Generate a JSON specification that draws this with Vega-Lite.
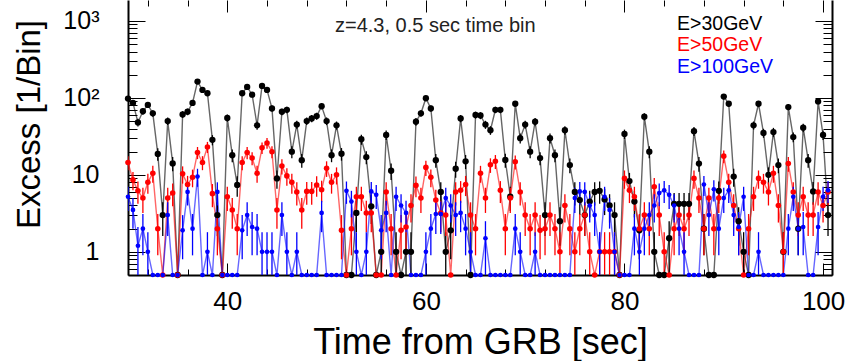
{
"$schema": "https://vega.github.io/schema/vega-lite/v6.json",
"width": 704, "height": 275,
"autosize": {"type": "none"},
"padding": {"left": 128, "top": 0, "right": 15, "bottom": 86},
"background": "white",
"config": {"view": {"stroke": null}, "font": "Liberation Sans"},
"datasets": {
"d": [
{"s":"30","t":30,"v":98,"e":7.9},{"s":"30","t":30.5,"v":86,"e":7.4},{"s":"30","t":31,"v":48,"e":5.5},{"s":"30","t":31.5,"v":67,"e":6.5},{"s":"30","t":32,"v":81,"e":7.2},{"s":"30","t":32.5,"v":63,"e":6.3},{"s":"30","t":33,"v":18.7,"e":3.5},{"s":"30","t":33.5,"v":3,"e":1.4},{"s":"30","t":34,"v":50,"e":5.7},{"s":"30","t":34.5,"v":14.1,"e":3},
{"s":"30","t":35,"v":0.5,"e":0},{"s":"30","t":35.5,"v":61,"e":6.2},{"s":"30","t":36,"v":66,"e":6.5},{"s":"30","t":36.5,"v":86,"e":7.4},{"s":"30","t":37,"v":163,"e":10.2},{"s":"30","t":37.5,"v":127,"e":9},{"s":"30","t":38,"v":115,"e":8.6},{"s":"30","t":38.5,"v":28.5,"e":4.3},{"s":"30","t":39,"v":3,"e":1.4},{"s":"30","t":39.5,"v":0.5,"e":0},
{"s":"30","t":40,"v":55,"e":5.9},{"s":"30","t":40.5,"v":18,"e":3.4},{"s":"30","t":41,"v":7.4,"e":2.2},{"s":"30","t":41.5,"v":115,"e":8.6},{"s":"30","t":42,"v":139,"e":9.4},{"s":"30","t":42.5,"v":110,"e":8.4},{"s":"30","t":43,"v":44,"e":5.3},{"s":"30","t":43.5,"v":143,"e":9.6},{"s":"30","t":44,"v":127,"e":9},{"s":"30","t":44.5,"v":73,"e":6.8},
{"s":"30","t":45,"v":9,"e":2.4},{"s":"30","t":45.5,"v":66,"e":6.5},{"s":"30","t":46,"v":70,"e":6.7},{"s":"30","t":46.5,"v":20,"e":3.6},{"s":"30","t":47,"v":45,"e":5.4},{"s":"30","t":47.5,"v":15.5,"e":3.1},{"s":"30","t":48,"v":50,"e":5.7},{"s":"30","t":48.5,"v":54,"e":5.9},{"s":"30","t":49,"v":58,"e":6.1},{"s":"30","t":49.5,"v":78,"e":7.1},
{"s":"30","t":50,"v":50,"e":5.7},{"s":"30","t":50.5,"v":18,"e":3.4},{"s":"30","t":51,"v":44,"e":5.3},{"s":"30","t":51.5,"v":18.8,"e":3.5},{"s":"30","t":52,"v":0.5,"e":0},{"s":"30","t":52.5,"v":0.5,"e":0},{"s":"30","t":53,"v":3.2,"e":1.4},{"s":"30","t":53.5,"v":29,"e":4.3},{"s":"30","t":54,"v":17,"e":3.3},{"s":"30","t":54.5,"v":3.9,"e":1.6},
{"s":"30","t":55,"v":0.5,"e":0},{"s":"30","t":55.5,"v":1,"e":0.8},{"s":"30","t":56,"v":33,"e":4.6},{"s":"30","t":56.5,"v":11.3,"e":2.7},{"s":"30","t":57,"v":1,"e":0.8},{"s":"30","t":57.5,"v":0.5,"e":0},{"s":"30","t":58,"v":1,"e":0.8},{"s":"30","t":58.5,"v":1,"e":0.8},{"s":"30","t":59,"v":49,"e":5.6},{"s":"30","t":59.5,"v":63,"e":6.3},
{"s":"30","t":60,"v":99,"e":8},{"s":"30","t":60.5,"v":73,"e":6.8},{"s":"30","t":61,"v":15.5,"e":3.1},{"s":"30","t":61.5,"v":6,"e":2},{"s":"30","t":62,"v":1,"e":0.8},{"s":"30","t":62.5,"v":1.9,"e":1.1},{"s":"30","t":63,"v":12,"e":2.8},{"s":"30","t":63.5,"v":54,"e":5.9},{"s":"30","t":64,"v":15,"e":3.1},{"s":"30","t":64.5,"v":0.5,"e":0},
{"s":"30","t":65,"v":60,"e":6.2},{"s":"30","t":65.5,"v":59,"e":6.1},{"s":"30","t":66,"v":45,"e":5.4},{"s":"30","t":66.5,"v":38,"e":4.9},{"s":"30","t":67,"v":70,"e":6.7},{"s":"30","t":67.5,"v":70,"e":6.7},{"s":"30","t":68,"v":15.6,"e":3.2},{"s":"30","t":68.5,"v":5.2,"e":1.8},{"s":"30","t":69,"v":84,"e":7.3},{"s":"30","t":69.5,"v":30,"e":4.4},
{"s":"30","t":70,"v":45,"e":5.4},{"s":"30","t":70.5,"v":20,"e":3.6},{"s":"30","t":71,"v":49,"e":5.6},{"s":"30","t":71.5,"v":16.5,"e":3.2},{"s":"30","t":72,"v":3,"e":1.4},{"s":"30","t":72.5,"v":30,"e":4.4},{"s":"30","t":73,"v":18,"e":3.4},{"s":"30","t":73.5,"v":2.5,"e":1.3},{"s":"30","t":74,"v":38,"e":4.9},{"s":"30","t":74.5,"v":13.4,"e":2.9},
{"s":"30","t":75,"v":6,"e":2},{"s":"30","t":75.5,"v":4.7,"e":1.7},{"s":"30","t":76,"v":3,"e":1.4},{"s":"30","t":76.5,"v":4.5,"e":1.7},{"s":"30","t":77,"v":6,"e":2},{"s":"30","t":77.5,"v":6.2,"e":2},{"s":"30","t":78,"v":4.8,"e":1.8},{"s":"30","t":78.5,"v":4,"e":1.6},{"s":"30","t":79,"v":3,"e":1.4},{"s":"30","t":79.5,"v":0.5,"e":0},
{"s":"30","t":80,"v":34,"e":4.7},{"s":"30","t":80.5,"v":8.3,"e":2.3},{"s":"30","t":81,"v":4.5,"e":1.7},{"s":"30","t":81.5,"v":1.9,"e":1.1},{"s":"30","t":82,"v":57,"e":6},{"s":"30","t":82.5,"v":20,"e":3.6},{"s":"30","t":83,"v":1,"e":0.8},{"s":"30","t":83.5,"v":0.5,"e":0},{"s":"30","t":84,"v":0.5,"e":0},{"s":"30","t":84.5,"v":1.5,"e":1},
{"s":"30","t":85,"v":4.2,"e":1.6},{"s":"30","t":85.5,"v":4.2,"e":1.6},{"s":"30","t":86,"v":4.2,"e":1.6},{"s":"30","t":86.5,"v":4.2,"e":1.6},{"s":"30","t":87,"v":37,"e":4.9},{"s":"30","t":87.5,"v":14,"e":3},{"s":"30","t":88,"v":2,"e":1.1},{"s":"30","t":88.5,"v":0.5,"e":0},{"s":"30","t":89,"v":0.5,"e":0},{"s":"30","t":89.5,"v":6.2,"e":2},
{"s":"30","t":90,"v":104,"e":8.2},{"s":"30","t":90.5,"v":84,"e":7.3},{"s":"30","t":91,"v":9.5,"e":2.5},{"s":"30","t":91.5,"v":2.5,"e":1.3},{"s":"30","t":92,"v":1,"e":0.8},{"s":"30","t":92.5,"v":0.5,"e":0},{"s":"30","t":93,"v":44,"e":5.3},{"s":"30","t":93.5,"v":84,"e":7.3},{"s":"30","t":94,"v":35,"e":4.7},{"s":"30","t":94.5,"v":10,"e":2.5},
{"s":"30","t":95,"v":36,"e":4.8},{"s":"30","t":95.5,"v":13.4,"e":2.9},{"s":"30","t":96,"v":1,"e":0.8},{"s":"30","t":96.5,"v":76,"e":7},{"s":"30","t":97,"v":31,"e":4.5},{"s":"30","t":97.5,"v":2,"e":1.1},{"s":"30","t":98,"v":41,"e":5.1},{"s":"30","t":98.5,"v":15.5,"e":3.1},{"s":"30","t":99,"v":6.1,"e":2},{"s":"30","t":99.5,"v":90,"e":7.6},
{"s":"30","t":100,"v":33,"e":4.6},{"s":"30","t":100.5,"v":3,"e":1.4},
{"s":"50","t":30,"v":14.5,"e":3},{"s":"50","t":30.5,"v":8.6,"e":2.3},{"s":"50","t":31,"v":6.2,"e":2},{"s":"50","t":31.5,"v":5,"e":1.8},{"s":"50","t":32,"v":8,"e":2.3},{"s":"50","t":32.5,"v":10.5,"e":2.6},{"s":"50","t":33,"v":2,"e":1.1},{"s":"50","t":33.5,"v":0.5,"e":0},{"s":"50","t":34,"v":5,"e":1.8},{"s":"50","t":34.5,"v":5.8,"e":1.9},
{"s":"50","t":35,"v":0.5,"e":0},{"s":"50","t":35.5,"v":10.3,"e":2.6},{"s":"50","t":36,"v":7.5,"e":2.2},{"s":"50","t":36.5,"v":9.3,"e":2.4},{"s":"50","t":37,"v":19.5,"e":3.5},{"s":"50","t":37.5,"v":14.5,"e":3},{"s":"50","t":38,"v":23,"e":3.8},{"s":"50","t":38.5,"v":5.7,"e":1.9},{"s":"50","t":39,"v":2,"e":1.1},{"s":"50","t":39.5,"v":0.5,"e":0},
{"s":"50","t":40,"v":5.2,"e":1.8},{"s":"50","t":40.5,"v":3.5,"e":1.5},{"s":"50","t":41,"v":2,"e":1.1},{"s":"50","t":41.5,"v":14.5,"e":3},{"s":"50","t":42,"v":19.5,"e":3.5},{"s":"50","t":42.5,"v":16.5,"e":3.2},{"s":"50","t":43,"v":10.5,"e":2.6},{"s":"50","t":43.5,"v":22.5,"e":3.8},{"s":"50","t":44,"v":26,"e":4.1},{"s":"50","t":44.5,"v":20,"e":3.6},
{"s":"50","t":45,"v":3.5,"e":1.5},{"s":"50","t":45.5,"v":13,"e":2.9},{"s":"50","t":46,"v":9.7,"e":2.5},{"s":"50","t":46.5,"v":8,"e":2.3},{"s":"50","t":47,"v":6,"e":2},{"s":"50","t":47.5,"v":3.5,"e":1.5},{"s":"50","t":48,"v":6.1,"e":2},{"s":"50","t":48.5,"v":6.1,"e":2},{"s":"50","t":49,"v":7.4,"e":2.2},{"s":"50","t":49.5,"v":6.4,"e":2},
{"s":"50","t":50,"v":12.2,"e":2.8},{"s":"50","t":50.5,"v":8,"e":2.3},{"s":"50","t":51,"v":10,"e":2.5},{"s":"50","t":51.5,"v":1.9,"e":1.1},{"s":"50","t":52,"v":0.5,"e":0},{"s":"50","t":52.5,"v":2,"e":1.1},{"s":"50","t":53,"v":5.2,"e":1.8},{"s":"50","t":53.5,"v":5.2,"e":1.8},{"s":"50","t":54,"v":3.2,"e":1.4},{"s":"50","t":54.5,"v":3.2,"e":1.4},
{"s":"50","t":55,"v":0.5,"e":0},{"s":"50","t":55.5,"v":0.5,"e":0},{"s":"50","t":56,"v":6,"e":2},{"s":"50","t":56.5,"v":2,"e":1.1},{"s":"50","t":57,"v":0.5,"e":0},{"s":"50","t":57.5,"v":1.9,"e":1.1},{"s":"50","t":58,"v":2.1,"e":1.2},{"s":"50","t":58.5,"v":4,"e":1.6},{"s":"50","t":59,"v":7.3,"e":2.2},{"s":"50","t":59.5,"v":5,"e":1.8},
{"s":"50","t":60,"v":12.5,"e":2.8},{"s":"50","t":60.5,"v":9.3,"e":2.4},{"s":"50","t":61,"v":4.7,"e":1.7},{"s":"50","t":61.5,"v":3.2,"e":1.4},{"s":"50","t":62,"v":3,"e":1.4},{"s":"50","t":62.5,"v":0.5,"e":0},{"s":"50","t":63,"v":6,"e":2},{"s":"50","t":63.5,"v":6.3,"e":2},{"s":"50","t":64,"v":7.5,"e":2.2},{"s":"50","t":64.5,"v":3,"e":1.4},
{"s":"50","t":65,"v":2,"e":1.1},{"s":"50","t":65.5,"v":10.5,"e":2.6},{"s":"50","t":66,"v":5,"e":1.8},{"s":"50","t":66.5,"v":13.5,"e":2.9},{"s":"50","t":67,"v":15,"e":3.1},{"s":"50","t":67.5,"v":6.3,"e":2},{"s":"50","t":68,"v":2,"e":1.1},{"s":"50","t":68.5,"v":5,"e":1.8},{"s":"50","t":69,"v":14.8,"e":3.1},{"s":"50","t":69.5,"v":6,"e":2},
{"s":"50","t":70,"v":3,"e":1.4},{"s":"50","t":70.5,"v":2,"e":1.1},{"s":"50","t":71,"v":3,"e":1.4},{"s":"50","t":71.5,"v":1.9,"e":1.1},{"s":"50","t":72,"v":2,"e":1.1},{"s":"50","t":72.5,"v":3,"e":1.4},{"s":"50","t":73,"v":2,"e":1.1},{"s":"50","t":73.5,"v":1,"e":0.8},{"s":"50","t":74,"v":4,"e":1.6},{"s":"50","t":74.5,"v":2,"e":1.1},
{"s":"50","t":75,"v":1,"e":0.8},{"s":"50","t":75.5,"v":2,"e":1.1},{"s":"50","t":76,"v":3,"e":1.4},{"s":"50","t":76.5,"v":1,"e":0.8},{"s":"50","t":77,"v":0.5,"e":0},{"s":"50","t":77.5,"v":1,"e":0.8},{"s":"50","t":78,"v":1,"e":0.8},{"s":"50","t":78.5,"v":1,"e":0.8},{"s":"50","t":79,"v":1,"e":0.8},{"s":"50","t":79.5,"v":0.5,"e":0},
{"s":"50","t":80,"v":9,"e":2.4},{"s":"50","t":80.5,"v":6.3,"e":2},{"s":"50","t":81,"v":5.2,"e":1.8},{"s":"50","t":81.5,"v":2,"e":1.1},{"s":"50","t":82,"v":3,"e":1.4},{"s":"50","t":82.5,"v":2,"e":1.1},{"s":"50","t":83,"v":7,"e":2.1},{"s":"50","t":83.5,"v":3,"e":1.4},{"s":"50","t":84,"v":1,"e":0.8},{"s":"50","t":84.5,"v":0.5,"e":0},
{"s":"50","t":85,"v":2,"e":1.1},{"s":"50","t":85.5,"v":3,"e":1.4},{"s":"50","t":86,"v":2,"e":1.1},{"s":"50","t":86.5,"v":3,"e":1.4},{"s":"50","t":87,"v":9,"e":2.4},{"s":"50","t":87.5,"v":5,"e":1.8},{"s":"50","t":88,"v":2,"e":1.1},{"s":"50","t":88.5,"v":5,"e":1.8},{"s":"50","t":89,"v":2,"e":1.1},{"s":"50","t":89.5,"v":5,"e":1.8},
{"s":"50","t":90,"v":17.5,"e":3.3},{"s":"50","t":90.5,"v":8,"e":2.3},{"s":"50","t":91,"v":4,"e":1.6},{"s":"50","t":91.5,"v":2,"e":1.1},{"s":"50","t":92,"v":0.5,"e":0},{"s":"50","t":92.5,"v":2,"e":1.1},{"s":"50","t":93,"v":5.2,"e":1.8},{"s":"50","t":93.5,"v":9,"e":2.4},{"s":"50","t":94,"v":8,"e":2.3},{"s":"50","t":94.5,"v":6,"e":2},
{"s":"50","t":95,"v":10.5,"e":2.6},{"s":"50","t":95.5,"v":4,"e":1.6},{"s":"50","t":96,"v":1,"e":0.8},{"s":"50","t":96.5,"v":14,"e":3},{"s":"50","t":97,"v":6,"e":2},{"s":"50","t":97.5,"v":3,"e":1.4},{"s":"50","t":98,"v":5.2,"e":1.8},{"s":"50","t":98.5,"v":3,"e":1.4},{"s":"50","t":99,"v":3,"e":1.4},{"s":"50","t":99.5,"v":6,"e":2},
{"s":"50","t":100,"v":4,"e":1.6},{"s":"50","t":100.5,"v":6,"e":2},
{"s":"100","t":30,"v":5.2,"e":1.8},{"s":"100","t":30.5,"v":3.5,"e":1.5},{"s":"100","t":31,"v":1.2,"e":0.9},{"s":"100","t":31.5,"v":2,"e":1.1},{"s":"100","t":32,"v":1,"e":0.8},{"s":"100","t":32.5,"v":0.5,"e":0},{"s":"100","t":33,"v":0.5,"e":0},{"s":"100","t":33.5,"v":0.5,"e":0},{"s":"100","t":34,"v":3,"e":1.4},{"s":"100","t":34.5,"v":0.5,"e":0},
{"s":"100","t":35,"v":0.5,"e":0},{"s":"100","t":35.5,"v":1.9,"e":1.1},{"s":"100","t":36,"v":6,"e":2},{"s":"100","t":36.5,"v":2,"e":1.1},{"s":"100","t":37,"v":9.5,"e":2.5},{"s":"100","t":37.5,"v":0.5,"e":0},{"s":"100","t":38,"v":1,"e":0.8},{"s":"100","t":38.5,"v":0.5,"e":0},{"s":"100","t":39,"v":6,"e":2},{"s":"100","t":39.5,"v":0.5,"e":0},
{"s":"100","t":40,"v":0.5,"e":0},{"s":"100","t":40.5,"v":0.5,"e":0},{"s":"100","t":41,"v":0.5,"e":0},{"s":"100","t":41.5,"v":1.9,"e":1.1},{"s":"100","t":42,"v":3,"e":1.4},{"s":"100","t":42.5,"v":2.1,"e":1.2},{"s":"100","t":43,"v":2,"e":1.1},{"s":"100","t":43.5,"v":1,"e":0.8},{"s":"100","t":44,"v":1,"e":0.8},{"s":"100","t":44.5,"v":1,"e":0.8},
{"s":"100","t":45,"v":0.5,"e":0},{"s":"100","t":45.5,"v":3,"e":1.4},{"s":"100","t":46,"v":1,"e":0.8},{"s":"100","t":46.5,"v":0.5,"e":0},{"s":"100","t":47,"v":1,"e":0.8},{"s":"100","t":47.5,"v":0.5,"e":0},{"s":"100","t":48,"v":0.5,"e":0},{"s":"100","t":48.5,"v":0.5,"e":0},{"s":"100","t":49,"v":0.5,"e":0},{"s":"100","t":49.5,"v":3.2,"e":1.4},
{"s":"100","t":50,"v":0.5,"e":0},{"s":"100","t":50.5,"v":0.5,"e":0},{"s":"100","t":51,"v":0.5,"e":0},{"s":"100","t":51.5,"v":0.5,"e":0},{"s":"100","t":52,"v":6.2,"e":2},{"s":"100","t":52.5,"v":4.5,"e":1.7},{"s":"100","t":53,"v":1,"e":0.8},{"s":"100","t":53.5,"v":0.5,"e":0},{"s":"100","t":54,"v":1,"e":0.8},{"s":"100","t":54.5,"v":6.1,"e":2},
{"s":"100","t":55,"v":5.5,"e":1.9},{"s":"100","t":55.5,"v":1.9,"e":1.1},{"s":"100","t":56,"v":3.2,"e":1.4},{"s":"100","t":56.5,"v":0.5,"e":0},{"s":"100","t":57,"v":5.2,"e":1.8},{"s":"100","t":57.5,"v":4,"e":1.6},{"s":"100","t":58,"v":3.2,"e":1.4},{"s":"100","t":58.5,"v":0.5,"e":0},{"s":"100","t":59,"v":0.5,"e":0},{"s":"100","t":59.5,"v":0.5,"e":0},
{"s":"100","t":60,"v":1,"e":0.8},{"s":"100","t":60.5,"v":2,"e":1.1},{"s":"100","t":61,"v":3.1,"e":1.4},{"s":"100","t":61.5,"v":3.1,"e":1.4},{"s":"100","t":62,"v":5,"e":1.8},{"s":"100","t":62.5,"v":4,"e":1.6},{"s":"100","t":63,"v":3,"e":1.4},{"s":"100","t":63.5,"v":3.2,"e":1.4},{"s":"100","t":64,"v":2,"e":1.1},{"s":"100","t":64.5,"v":1,"e":0.8},
{"s":"100","t":65,"v":0.5,"e":0},{"s":"100","t":65.5,"v":0.5,"e":0},{"s":"100","t":66,"v":1.5,"e":1},{"s":"100","t":66.5,"v":0.5,"e":0},{"s":"100","t":67,"v":0.5,"e":0},{"s":"100","t":67.5,"v":0.5,"e":0},{"s":"100","t":68,"v":0.5,"e":0},{"s":"100","t":68.5,"v":0.5,"e":0},{"s":"100","t":69,"v":2,"e":1.1},{"s":"100","t":69.5,"v":1,"e":0.8},
{"s":"100","t":70,"v":0.5,"e":0},{"s":"100","t":70.5,"v":0.5,"e":0},{"s":"100","t":71,"v":1,"e":0.8},{"s":"100","t":71.5,"v":0.5,"e":0},{"s":"100","t":72,"v":0.5,"e":0},{"s":"100","t":72.5,"v":0.5,"e":0},{"s":"100","t":73,"v":0.5,"e":0},{"s":"100","t":73.5,"v":0.5,"e":0},{"s":"100","t":74,"v":0.5,"e":0},{"s":"100","t":74.5,"v":0.5,"e":0},
{"s":"100","t":75,"v":5,"e":1.8},{"s":"100","t":75.5,"v":6.1,"e":2},{"s":"100","t":76,"v":6,"e":2},{"s":"100","t":76.5,"v":4,"e":1.6},{"s":"100","t":77,"v":3,"e":1.4},{"s":"100","t":77.5,"v":1,"e":0.8},{"s":"100","t":78,"v":5.2,"e":1.8},{"s":"100","t":78.5,"v":3.5,"e":1.5},{"s":"100","t":79,"v":1,"e":0.8},{"s":"100","t":79.5,"v":0.5,"e":0},
{"s":"100","t":80,"v":0.5,"e":0},{"s":"100","t":80.5,"v":0.5,"e":0},{"s":"100","t":81,"v":2,"e":1.1},{"s":"100","t":81.5,"v":1,"e":0.8},{"s":"100","t":82,"v":2,"e":1.1},{"s":"100","t":82.5,"v":3,"e":1.4},{"s":"100","t":83,"v":4,"e":1.6},{"s":"100","t":83.5,"v":5.8,"e":1.9},{"s":"100","t":84,"v":6.3,"e":2},{"s":"100","t":84.5,"v":5.5,"e":1.9},
{"s":"100","t":85,"v":4,"e":1.6},{"s":"100","t":85.5,"v":2,"e":1.1},{"s":"100","t":86,"v":1,"e":0.8},{"s":"100","t":86.5,"v":0.5,"e":0},{"s":"100","t":87,"v":0.5,"e":0},{"s":"100","t":87.5,"v":0.5,"e":0},{"s":"100","t":88,"v":7.5,"e":2.2},{"s":"100","t":88.5,"v":3,"e":1.4},{"s":"100","t":89,"v":6.5,"e":2},{"s":"100","t":89.5,"v":2,"e":1.1},
{"s":"100","t":90,"v":5,"e":1.8},{"s":"100","t":90.5,"v":6.3,"e":2},{"s":"100","t":91,"v":3,"e":1.4},{"s":"100","t":91.5,"v":2.1,"e":1.2},{"s":"100","t":92,"v":5.2,"e":1.8},{"s":"100","t":92.5,"v":0.5,"e":0},{"s":"100","t":93,"v":0.5,"e":0},{"s":"100","t":93.5,"v":1,"e":0.8},{"s":"100","t":94,"v":0.5,"e":0},{"s":"100","t":94.5,"v":0.5,"e":0},
{"s":"100","t":95,"v":0.5,"e":0},{"s":"100","t":95.5,"v":0.5,"e":0},{"s":"100","t":96,"v":0.5,"e":0},{"s":"100","t":96.5,"v":2,"e":1.1},{"s":"100","t":97,"v":5.2,"e":1.8},{"s":"100","t":97.5,"v":2,"e":1.1},{"s":"100","t":98,"v":2.1,"e":1.2},{"s":"100","t":98.5,"v":0.5,"e":0},{"s":"100","t":99,"v":0.5,"e":0},{"s":"100","t":99.5,"v":2.1,"e":1.2},
{"s":"100","t":100,"v":5.2,"e":1.8},{"s":"100","t":100.5,"v":6.3,"e":2}
],
"lab": [
{"s":"30","t":85.3,"v":900,"text":"E>30GeV"},
{"s":"50","t":85.3,"v":480,"text":"E>50GeV"},
{"s":"100","t":85.3,"v":255,"text":"E>100GeV"}
]
},
"layer": [
{
"encoding": {
"x": {"field": "t", "type": "quantitative", "scale": {"domain": [30, 100.9], "nice": false, "zero": false},
"axis": {"values": [32,36,40,44,48,52,56,60,64,68,72,76,80,84,88,92,96,100],
"labelExpr": "datum.value % 20 == 0 ? datum.label : ''",
"tickSize": {"condition": {"test": "datum.value % 20 == 0", "value": -12}, "value": -6},
"tickColor": "black", "tickWidth": 1, "domain": true, "domainColor": "black", "domainWidth": 2,
"labelFont": "Liberation Sans", "labelFontSize": 26, "labelColor": "black", "labelPadding": 25, "labelFlush": false, "labelOverlap": false,
"grid": false, "title": "Time from GRB [sec]", "titleFont": "Liberation Sans", "titleFontSize": 36, "titleFontWeight": "normal", "titleColor": "black", "titlePadding": 5}},
"y": {"field": "v", "type": "quantitative", "scale": {"type": "log", "domain": [0.5, 1870], "nice": false},
"axis": {"values": [0.5,0.6,0.7,0.8,0.9,1,2,3,4,5,6,7,8,9,10,20,30,40,50,60,70,80,90,100,200,300,400,500,600,700,800,900,1000],
"labelExpr": "datum.value == 1000 ? '10³' : datum.value == 100 ? '10²' : datum.value == 10 ? '10' : datum.value == 1 ? '1' : ''",
"tickSize": {"condition": {"test": "datum.value == 1 || datum.value == 10 || datum.value == 100 || datum.value == 1000", "value": -17}, "value": -9},
"tickColor": "black", "tickWidth": 1, "domain": true, "domainColor": "black", "domainWidth": 2,
"labelFont": "Liberation Sans", "labelFontSize": 25, "labelColor": "black", "labelPadding": 46, "labelFlush": false, "labelOverlap": false, "labelBaseline": "middle",
"grid": false, "title": "Excess [1/Bin]", "titleFont": "Liberation Sans", "titleFontSize": 33, "titleFontWeight": "normal", "titleColor": "black", "titlePadding": 16, "titleY": 124}},
"color": {"field": "s", "type": "nominal", "scale": {"domain": ["30","50","100"], "range": ["#000000","#ff0000","#0000ff"]}, "legend": null}
},
"layer": [
{"data": {"name": "d"}, "mark": {"type": "line", "strokeWidth": 1.4, "opacity": 0.6, "clip": true}},
{"data": {"name": "d"}, "mark": {"type": "errorbar", "ticks": false, "thickness": 1.3, "clip": true}, "encoding": {"yError": {"field": "e"}}},
{"data": {"name": "d"}, "mark": {"type": "point", "filled": true, "opacity": 1, "strokeWidth": 0},
 "encoding": {"size": {"field": "s", "type": "ordinal", "scale": {"domain": ["30","50","100"], "range": [40, 22, 22]}, "legend": null}}},
{"data": {"name": "lab"}, "mark": {"type": "text", "align": "left", "baseline": "middle", "fontSize": 19.5, "font": "Liberation Sans"}, "encoding": {"text": {"field": "text"}}},
{"data": {"values": [{"t": 60.95, "v": 849, "text": "z=4.3, 0.5 sec time bin"}]}, "mark": {"type": "text", "align": "center", "baseline": "middle", "fontSize": 20, "font": "Liberation Sans"}, "encoding": {"text": {"field": "text"}, "color": {"value": "#222222"}}}
]
},
{
"data": {"name": "d"},
"mark": {"type": "point", "opacity": 0},
"encoding": {
"x": {"field": "t", "type": "quantitative", "scale": {"domain": [30, 100.9], "nice": false, "zero": false},
"axis": {"orient": "top", "values": [32,36,40,44,48,52,56,60,64,68,72,76,80,84,88,92,96,100], "labels": false, "title": null, "domain": false, "grid": false,
"tickSize": {"condition": {"test": "datum.value % 20 == 0", "value": -12}, "value": -6}, "tickColor": "black", "tickWidth": 1}},
"y": {"field": "v", "type": "quantitative", "scale": {"type": "log", "domain": [0.5, 1870], "nice": false},
"axis": {"orient": "right", "values": [0.5,0.6,0.7,0.8,0.9,1,2,3,4,5,6,7,8,9,10,20,30,40,50,60,70,80,90,100,200,300,400,500,600,700,800,900,1000], "labels": false, "title": null, "grid": false,
"domain": true, "domainColor": "black", "domainWidth": 2,
"tickSize": {"condition": {"test": "datum.value == 1 || datum.value == 10 || datum.value == 100 || datum.value == 1000", "value": -17}, "value": -9}, "tickColor": "black", "tickWidth": 1}}
}
}
],
"resolve": {"axis": {"x": "independent", "y": "independent"}}
}
